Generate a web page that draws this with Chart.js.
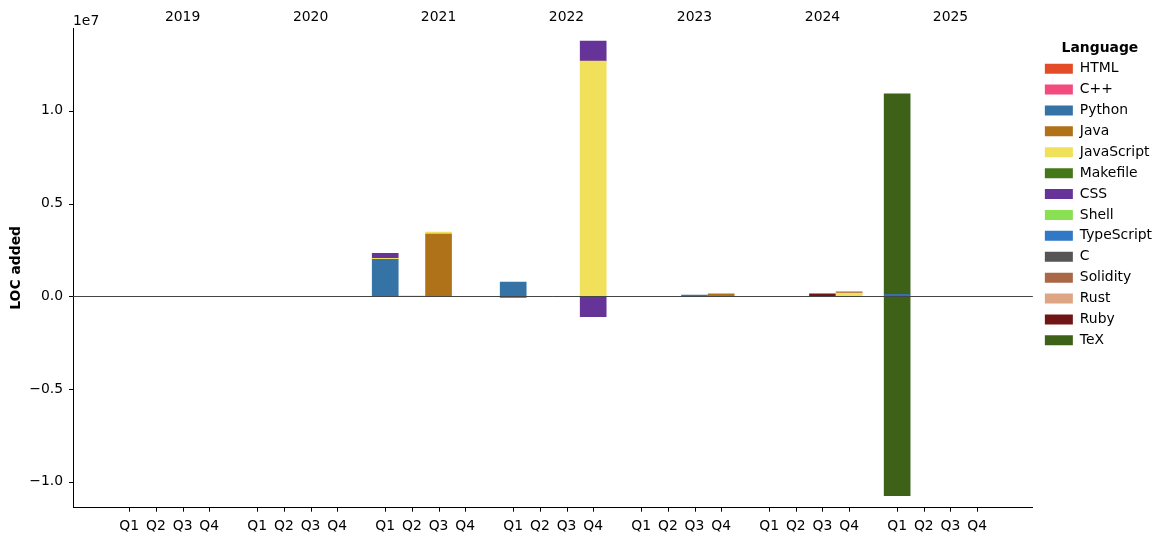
<!DOCTYPE html>
<html>
<head>
<meta charset="utf-8">
<script src="https://cdn.jsdelivr.net/npm/chart.js@4"></script>
<style>
  html, body { margin: 0; padding: 0; background: #fff; }
  #wrap { width: 1172px; height: 542px; }
</style>
</head>
<body>
<div id="wrap"><canvas id="chart" width="1172" height="542"></canvas></div>
<script>
"use strict";

// Categories
const years = ["2019", "2020", "2021", "2022", "2023", "2024", "2025"];
const quarters = ["Q1", "Q2", "Q3", "Q4"];
const languages = ["HTML", "C++", "Python", "Java", "JavaScript", "Makefile", "CSS",
                   "Shell", "TypeScript", "C", "Solidity", "Rust", "Ruby", "TeX"];
const colors = ["#e34c26", "#f34b7d", "#3572A5", "#b07219", "#f1e05a", "#427819", "#663399",
                "#89e051", "#3178c6", "#555555", "#AA6746", "#dea584", "#701516", "#3D6117"];
const yTicks = [-1e7, -5e6, 0, 5e6, 1e7];

// LOC added per quarter (2019 Q1 ... 2025 Q4)
//                     |---- 2019 ----|  |---- 2020 ----|  |-------- 2021 --------|  |-------- 2022 --------|  |------ 2023 ------|  |------ 2024 ------|  |------ 2025 ------|
const htmlAdded       = [0, 0, 0, 0,     0, 0, 0, 0,      0, 0, 0, 0,               0, 0, 0, 0,               0, 0, 0, 0,           0, 0, 0, 0,           0, 0, 0, 0];
const cppAdded        = [0, 0, 0, 0,     0, 0, 0, 0,      0, 0, 0, 0,               0, 0, 0, 0,               0, 0, 0, 0,           0, 0, 0, 0,           0, 0, 0, 0];
const pythonAdded     = [0, 0, 0, 0,     0, 0, 0, 0,      2000000, 0, 0, 0,         770000, 0, 0, 0,          0, 0, 70000, 0,       0, 0, 0, 0,           100000, 0, 0, 0];
const javaAdded       = [0, 0, 0, 0,     0, 0, 0, 0,      0, 0, 3360000, 0,         0, 0, 0, 0,               0, 0, 0, 140000,      0, 0, 0, 0,           0, 0, 0, 0];
const javascriptAdded = [0, 0, 0, 0,     0, 0, 0, 0,      50000, 30000, 100000, 0,  0, 0, 0, 12680000,        0, 0, 0, 0,           0, 0, 0, 180000,      0, 0, 0, 0];
const makefileAdded   = [0, 0, 0, 0,     0, 0, 0, 0,      0, 0, 0, 0,               0, 0, 0, 0,               0, 0, 0, 0,           0, 0, 0, 0,           0, 0, 0, 0];
const cssAdded        = [0, 0, 0, 0,     0, 0, 0, 0,      270000, 0, 0, 0,          0, 0, 0, 1080000,         0, 0, 0, 0,           0, 0, 0, 0,           0, 0, 0, 0];
const shellAdded      = [0, 0, 0, 0,     0, 0, 0, 0,      0, 0, 0, 0,               0, 0, 0, 0,               0, 0, 0, 0,           0, 0, 0, 0,           0, 0, 0, 0];
const typescriptAdded = [0, 0, 0, 0,     0, 0, 0, 0,      0, 0, 0, 0,               0, 0, 0, 0,               0, 0, 0, 0,           0, 0, 0, 0,           0, 0, 0, 0];
const cAdded          = [0, 0, 0, 0,     0, 0, 0, 0,      0, 0, 0, 0,               0, 0, 0, 0,               0, 0, 0, 0,           0, 0, 0, 0,           0, 0, 0, 0];
const solidityAdded   = [0, 0, 0, 0,     0, 0, 0, 0,      0, 0, 0, 0,               0, 0, 0, 0,               0, 0, 0, 0,           0, 0, 0, 60000,       0, 0, 0, 0];
const rustAdded       = [0, 0, 0, 0,     0, 0, 0, 0,      0, 0, 0, 0,               0, 0, 0, 0,               0, 0, 0, 0,           0, 0, 0, 0,           0, 0, 0, 0];
const rubyAdded       = [0, 0, 0, 0,     0, 0, 0, 0,      0, 0, 0, 0,               0, 0, 0, 0,               0, 0, 0, 0,           0, 0, 140000, 0,      0, 0, 0, 0];
const texAdded        = [0, 0, 0, 0,     0, 0, 0, 0,      0, 0, 0, 0,               0, 0, 0, 0,               0, 0, 0, 0,           0, 0, 0, 0,           10820000, 0, 0, 0];

// LOC removed (negative) - only languages that have removals
const htmlRemoved     = [0, 0, 0, 0,     0, 0, 0, 0,      0, 0, 0, 0,               -20000, 0, 0, 0,          0, 0, 0, 0,           0, 0, 0, 0,           0, 0, 0, 0];
const cppRemoved      = [0, 0, 0, 0,     0, 0, 0, 0,      0, 0, 0, 0,               -50000, 0, 0, 0,          0, 0, 0, 0,           0, 0, 0, 0,           0, 0, 0, 0];
const cssRemoved      = [0, 0, 0, 0,     0, 0, 0, 0,      0, 0, 0, 0,               0, 0, 0, -1100000,        0, 0, 0, 0,           0, 0, 0, 0,           0, 0, 0, 0];
const texRemoved      = [0, 0, 0, 0,     0, 0, 0, 0,      0, 0, 0, 0,               0, 0, 0, 0,               0, 0, 0, 0,           0, 0, 0, 0,           -10750000, 0, 0, 0];

const addedSeries = [htmlAdded, cppAdded, pythonAdded, javaAdded, javascriptAdded, makefileAdded, cssAdded,
                     shellAdded, typescriptAdded, cAdded, solidityAdded, rustAdded, rubyAdded, texAdded];
const removedSeries = { "HTML": htmlRemoved, "C++": cppRemoved, "CSS": cssRemoved, "TeX": texRemoved };

// x position of every quarter: quarters one unit apart, extra gap between years
const yearGap = 0.8;
const positions = [];
const posLabels = [];
years.forEach((y, yi) => {
    quarters.forEach((q, qi) => {
        positions.push(yi * (4 + yearGap) + qi);
        posLabels.push(q);
    });
});
const yearPositions = years.map((y, yi) => yi * (4 + yearGap) + 2);

// empty quarters are skipped (no zero-height slivers)
const toPoints = arr => arr.map((v, i) => ({ x: positions[i], y: v === 0 ? null : v }));

const datasets = languages.map((name, i) => ({
    label: name,
    data: toPoints(addedSeries[i]),
    backgroundColor: colors[i],
    borderWidth: 0,
    barThickness: 26
}));
languages.forEach((name, i) => {
    if (removedSeries[name]) {
        datasets.push({
            label: name + " (removed)",
            data: toPoints(removedSeries[name]),
            backgroundColor: colors[i],
            borderWidth: 0,
            barThickness: 26
        });
    }
});

const FONT = "'DejaVu Sans', sans-serif";
const FS = 13.9;
Chart.defaults.font.family = FONT;
Chart.defaults.font.size = FS;
Chart.defaults.color = "#000";

// zero line over the bars, outward tick marks and the "1e7" offset label
const extras = {
    id: "extras",
    afterLayout(chart) {
        // nudge the legend a little away from the plot, like matplotlib's borderaxespad
        chart.legend.left += 5;
        chart.legend.right += 5;
    },
    afterDatasetsDraw(chart) {
        const { ctx, chartArea } = chart;
        const y0 = Math.round(chart.scales.y.getPixelForValue(0)) + 0.5;
        ctx.save();
        ctx.strokeStyle = "#444";
        ctx.lineWidth = 1;
        ctx.beginPath();
        ctx.moveTo(chartArea.left, y0);
        ctx.lineTo(chartArea.right, y0);
        ctx.stroke();
        ctx.restore();
    },
    afterDraw(chart) {
        const { ctx, chartArea } = chart;
        const xs = chart.scales.x, ys = chart.scales.y;
        ctx.save();
        ctx.strokeStyle = "#000";
        ctx.lineWidth = 1;
        ctx.beginPath();
        positions.forEach(p => {
            const px = Math.round(xs.getPixelForValue(p)) + 0.5;
            ctx.moveTo(px, chartArea.bottom);
            ctx.lineTo(px, chartArea.bottom + 4);
        });
        yTicks.forEach(v => {
            const py = Math.round(ys.getPixelForValue(v)) + 0.5;
            ctx.moveTo(chartArea.left - 4, py);
            ctx.lineTo(chartArea.left, py);
        });
        ctx.stroke();

        ctx.fillStyle = "#000";
        ctx.font = FS + "px " + FONT;
        ctx.textAlign = "left";
        ctx.textBaseline = "alphabetic";
        ctx.fillText("1e7", chartArea.left, 25);
        ctx.restore();
    }
};

const xMin = -2.11;
const xMax = 33.89;

new Chart(document.getElementById("chart"), {
    type: "bar",
    data: { datasets: datasets },
    plugins: [extras],
    options: {
        responsive: false,
        animation: false,
        layout: { padding: { left: 0, right: 15, top: 0, bottom: 0 } },
        plugins: {
            tooltip: { enabled: false },
            legend: {
                position: "right",
                align: "start",
                title: {
                    display: true,
                    text: "Language",
                    font: { weight: "bold", size: FS },
                    padding: { top: 41, bottom: -3 }
                },
                labels: {
                    boxWidth: 28,
                    boxHeight: 10,
                    padding: 7,
                    font: { size: FS },
                    filter: item => item.datasetIndex < languages.length
                }
            }
        },
        scales: {
            x: {
                type: "linear",
                stacked: true,
                offset: false,
                position: "bottom",
                min: xMin,
                max: xMax,
                afterBuildTicks: s => { s.ticks = positions.map(v => ({ value: v })); },
                afterFit: s => { s.height = 34.3; },
                ticks: {
                    autoSkip: false,
                    maxRotation: 0,
                    padding: 6,
                    callback: (v, i) => posLabels[i]
                },
                grid: { offset: false, drawOnChartArea: false, drawTicks: true, tickLength: 4, color: "rgba(0,0,0,0)" },
                border: { display: true, color: "#000", width: 1 }
            },
            xTop: {
                type: "linear",
                position: "top",
                offset: false,
                min: xMin,
                max: xMax,
                afterBuildTicks: s => { s.ticks = yearPositions.map(v => ({ value: v })); },
                afterFit: s => { s.height = 28; },
                ticks: {
                    autoSkip: false,
                    maxRotation: 0,
                    padding: 2,
                    callback: (v, i) => years[i]
                },
                grid: { offset: false, display: false, drawTicks: false },
                border: { display: false }
            },
            y: {
                stacked: true,
                min: -1.1396e7,
                max: 1.4464e7,
                afterBuildTicks: s => { s.ticks = yTicks.map(v => ({ value: v })); },
                afterFit: s => { s.width = 73; },
                ticks: {
                    padding: 6,
                    callback: v => (v / 1e7).toFixed(1).replace("-", "\u2212")
                },
                grid: { drawOnChartArea: false, drawTicks: true, tickLength: 4, color: "rgba(0,0,0,0)" },
                border: { display: true, color: "#000", width: 1 },
                title: {
                    display: true,
                    text: "LOC added",
                    font: { weight: "bold", size: FS },
                    padding: { top: 8, bottom: 0 }
                }
            }
        }
    }
});
</script>
</body>
</html>
